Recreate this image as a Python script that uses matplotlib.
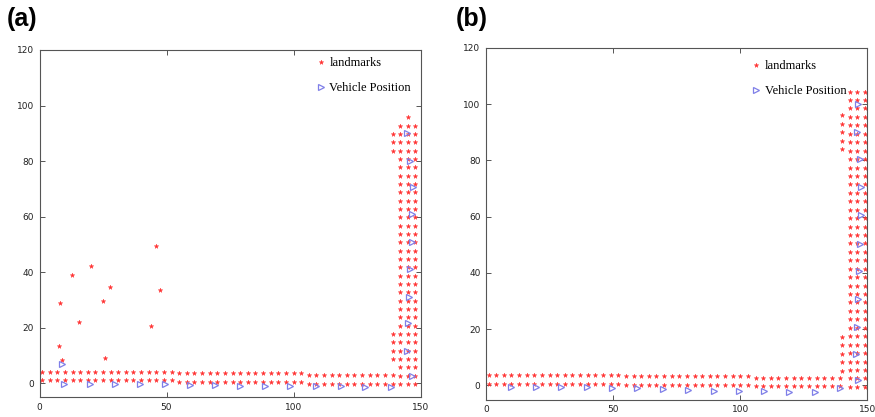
import numpy as np
import matplotlib
matplotlib.use("Agg")
import matplotlib.pyplot as plt

# ---------------- data ----------------
# landmarks along the horizontal road: two rows, regular 3 m spacing
road_x = list(range(1, 140, 3))
# rows sink slightly along the road: breakpoints in x with row heights
row_break_x = [0, 55, 105]
a_upper_row_y = [4.1, 3.6, 3.0]
a_lower_row_y = [1.1, 0.5, -0.2]
b_upper_row_y = [3.6, 3.2, 2.8]
b_lower_row_y = [0.6, 0.2, -0.3]

# landmarks along the vertical road (columns)
a_column_x = [142, 145, 148]
a_column_top = [92.7, 95.7, 92.7]
a_column_y0 = -0.3
b_column_x = [143, 146, 149]
b_column_top = [104.5, 104.5, 104.5]
b_column_y0 = -0.5
column_step = 3

# short extra column next to the corner
a_extra_x = 139
a_extra_y = [8.7, 11.7, 14.7, 17.7, 83.7, 86.7, 89.7]
b_extra_x = 140
b_extra_y = [5.1, 8.2, 11.3, 14.3, 17.3, 84.0, 87.0, 90.0, 93.0, 96.0]

# scattered landmarks (panel a only)
a_scatter_x = [45.9, 20.3, 12.6, 27.6, 47.6, 25.1, 7.9, 15.4, 43.9, 7.5, 25.9, 8.9]
a_scatter_y = [49.3, 42.1, 39.1, 34.7, 33.6, 29.6, 28.7, 21.9, 20.6, 13.3, 9.2, 8.5]

# vehicle positions
a_vehicle_x = [8.9, 9.5, 19.7, 29.6, 39.4, 49.5, 59.3, 69.1, 78.9, 88.7, 98.8, 108.8,
               118.6, 128.3, 138.2, 146.7, 144.6, 145.0, 145.4, 145.9, 146.5, 146.7,
               147.2, 145.9, 144.7]
a_vehicle_y = [7.0, -0.3, -0.3, -0.3, -0.3, -0.3, -0.6, -0.8, -1.0, -1.1, -1.2, -1.2,
               -1.2, -1.3, -1.3, 2.4, 11.7, 21.5, 31.0, 41.0, 51.0, 61.0,
               70.7, 80.1, 90.0]
b_vehicle_x = [9.9, 19.7, 29.6, 39.8, 49.6, 59.5, 69.5, 79.6, 89.5, 99.6, 109.5,
               119.3, 129.2, 139.3, 146.2, 145.3, 145.7, 146.3, 146.6, 147.0, 147.4,
               147.4, 147.0, 145.7, 146.2]
b_vehicle_y = [-0.6, -0.6, -0.6, -0.6, -1.0, -1.0, -1.3, -1.5, -1.8, -2.0, -2.0,
               -2.2, -2.2, -1.0, 2.0, 11.1, 20.8, 30.7, 40.6, 50.4, 60.5,
               70.6, 80.5, 90.2, 100.2]

x_ticks = [0, 50, 100, 150]
y_ticks = [0, 20, 40, 60, 80, 100, 120]
legend_labels = ["landmarks", "Vehicle Position"]
panel_labels = ["(a)", "(b)"]


def row_heights(xs, levels):
    idx = np.searchsorted(row_break_x, xs, side="right") - 1
    return np.asarray(levels)[idx]


def landmark_points(upper, lower, col_x, col_top, col_y0, extra_x, extra_y,
                    sc_x=(), sc_y=()):
    xs, ys = [], []
    rx = np.asarray(road_x, dtype=float)
    xs += list(rx); ys += list(row_heights(rx, upper))
    xs += list(rx); ys += list(row_heights(rx, lower))
    for cx, top in zip(col_x, col_top):
        cy = np.arange(col_y0, top + 0.01, column_step)
        xs += [cx] * len(cy); ys += list(cy)
    xs += [extra_x] * len(extra_y); ys += list(extra_y)
    xs += list(sc_x); ys += list(sc_y)
    return np.array(xs), np.array(ys)


panels = [
    dict(lm=landmark_points(a_upper_row_y, a_lower_row_y, a_column_x, a_column_top,
                            a_column_y0, a_extra_x, a_extra_y, a_scatter_x, a_scatter_y),
         veh=(a_vehicle_x, a_vehicle_y),
         rect=[39.5 / 875, 1 - 397 / 417, 381 / 875, 347 / 417],
         legend_anchor=(0.695, 1.005),
         label_xy=(7 / 875, 1 - 7 / 417)),
    dict(lm=landmark_points(b_upper_row_y, b_lower_row_y, b_column_x, b_column_top,
                            b_column_y0, b_extra_x, b_extra_y),
         veh=(b_vehicle_x, b_vehicle_y),
         rect=[486 / 875, 1 - 399.5 / 417, 381.5 / 875, 351.5 / 417],
         legend_anchor=(0.665, 0.99),
         label_xy=(456 / 875, 1 - 7 / 417)),
]

fig = plt.figure(figsize=(8.75, 4.17), dpi=100)
fig.patch.set_facecolor("white")

vehicle_color = "#7f7fe8"
spine_color = "#555555"

for p, plabel in zip(panels, panel_labels):
    ax = fig.add_axes(p["rect"])
    lx, ly = p["lm"]
    ax.plot(lx, ly, linestyle="none", marker="*", markersize=3.4,
            color="#ff3030", markeredgewidth=0.3, label=legend_labels[0])
    vx, vy = p["veh"]
    ax.plot(vx, vy, linestyle="none", marker=">", markersize=4.8,
            markerfacecolor="none", markeredgecolor=vehicle_color,
            markeredgewidth=0.9, label=legend_labels[1])

    ax.set_xlim(0, 150)
    ax.set_ylim(-5, 120)
    ax.set_xticks(x_ticks)
    ax.set_yticks(y_ticks)
    ax.tick_params(direction="in", length=3.5, width=0.7, colors=spine_color,
                   labelcolor="#222222", labelsize=6.5, top=True, right=True,
                   pad=4)
    for s in ax.spines.values():
        s.set_color(spine_color)
        s.set_linewidth(0.8)

    ax.legend(loc="upper left", bbox_to_anchor=p["legend_anchor"], frameon=False,
              prop=dict(family="Liberation Serif", size=9),
              handletextpad=0.1, handlelength=1.2, labelspacing=1.05,
              markerscale=1.0, borderaxespad=0.3)

    fig.text(p["label_xy"][0], p["label_xy"][1], plabel, ha="left", va="top",
             fontsize=18, fontweight="bold", family="Liberation Sans")

fig.savefig("out.png", dpi=100, facecolor="white")
